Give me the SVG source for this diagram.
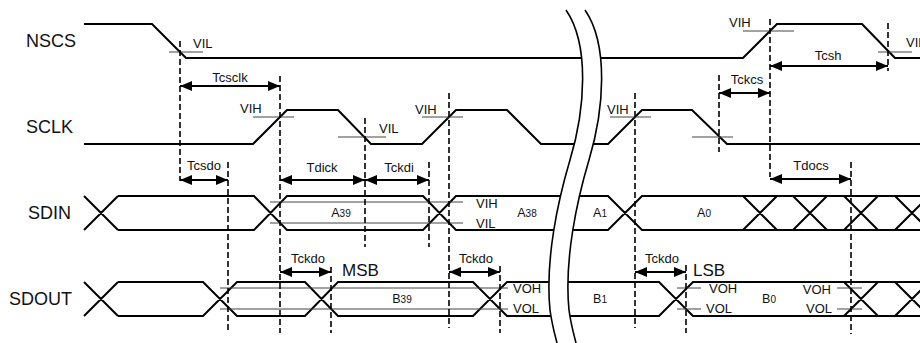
<svg xmlns="http://www.w3.org/2000/svg" width="920" height="343" viewBox="0 0 920 343">
<style>
text{font-family:"Liberation Sans",Arial,sans-serif;fill:#111}
.name{font-size:18px}
.lbl{font-size:13px}
.big{font-size:17px}
.dat{font-size:12.5px}
.sub{font-size:10px}
.sig{fill:none;stroke:#000;stroke-width:2;stroke-linejoin:miter}
.thin{fill:none;stroke:#444;stroke-width:1}
.dash{fill:none;stroke:#000;stroke-width:1.6;stroke-dasharray:6,3}
.arr{fill:none;stroke:#000;stroke-width:2;marker-start:url(#ah);marker-end:url(#ah)}
.brk{fill:none;stroke:#000;stroke-width:1.6}
</style>
<defs>
<marker id="ah" viewBox="0 0 12 10" refX="12" refY="5" markerWidth="12" markerHeight="10" markerUnits="userSpaceOnUse" orient="auto-start-reverse">
<path d="M0,0 L12,5 L0,10 z" fill="#000"/>
</marker>
</defs>
<rect width="920" height="343" fill="#fff"/>

<g id="NSCS">
<text class="name" x="26" y="47">NSCS</text>
<path class="sig" d="M84,24 H152 L186,58 H743 L777,24 H862 L895,58 H920"/>
<line class="thin" x1="169" y1="52" x2="203" y2="52"/>
<text class="lbl" x="193" y="48">VIL</text>
<line class="thin" x1="743" y1="31" x2="794" y2="31"/>
<text class="lbl" x="729" y="27">VIH</text>
<line class="thin" x1="878" y1="52" x2="912" y2="52"/>
<text class="lbl" x="906" y="47">VIL</text>
</g>

<g id="SCLK">
<text class="name" x="26" y="133">SCLK</text>
<path class="sig" d="M84,144 H253 L287,110 H338 L371,144 H422 L456,110 H507 L541,144 H608 L642,110 H692 L727,144 H920"/>
<line class="thin" x1="253" y1="117" x2="294" y2="117"/>
<text class="lbl" x="240" y="113">VIH</text>
<line class="thin" x1="338" y1="137" x2="386" y2="137"/>
<text class="lbl" x="379" y="133">VIL</text>
<line class="thin" x1="422" y1="117" x2="463" y2="117"/>
<text class="lbl" x="415" y="114">VIH</text>
<line class="thin" x1="610" y1="117" x2="651" y2="117"/>
<text class="lbl" x="607" y="114">VIH</text>
<line class="thin" x1="692" y1="137" x2="733" y2="137"/>
</g>

<g id="SDIN">
<text class="name" x="28" y="219">SDIN</text>
<path class="sig" d="M84,196 L118,230 M84,230 L118,196 M118,196 H254 L287,230 H423 L456,196 H608 L642,230 H930 M118,230 H254 L287,196 H423 L456,230 H608 L642,196 H930 M743,196 L777,230 M743,230 L777,196 M793,196 L827,230 M793,230 L827,196 M844,196 L878,230 M844,230 L878,196 M895,196 L929,230 M895,230 L929,196"/>
<line class="thin" x1="270" y1="202" x2="463" y2="202"/>
<line class="thin" x1="270" y1="223" x2="463" y2="223"/>
<text class="lbl" x="476" y="208">VIH</text>
<text class="lbl" x="476" y="228">VIL</text>
<text class="dat" x="341" y="217" text-anchor="middle">A<tspan class="sub">39</tspan></text>
<text class="dat" x="527" y="217" text-anchor="middle">A<tspan class="sub">38</tspan></text>
<text class="dat" x="600" y="217" text-anchor="middle">A<tspan class="sub">1</tspan></text>
<text class="dat" x="704" y="217" text-anchor="middle">A<tspan class="sub">0</tspan></text>
</g>

<g id="SDOUT">
<text class="name" x="9" y="305">SDOUT</text>
<path class="sig" d="M84,282 L118,316 M84,316 L118,282 M118,282 H203 L237,316 H305 L338,282 H473 L507,316 H659 L693,282 H930 M118,316 H203 L237,282 H305 L338,316 H473 L507,282 H659 L693,316 H930 M844,282 L878,316 M844,316 L878,282 M895,282 L929,316 M895,316 L929,282"/>
<line class="thin" x1="220" y1="288" x2="508" y2="288"/>
<line class="thin" x1="220" y1="309" x2="508" y2="309"/>
<text class="lbl" x="513" y="293">VOH</text>
<text class="lbl" x="513" y="313">VOL</text>
<line class="thin" x1="677" y1="288" x2="701" y2="288"/>
<line class="thin" x1="677" y1="309" x2="701" y2="309"/>
<text class="lbl" x="709" y="293">VOH</text>
<text class="lbl" x="706" y="313">VOL</text>
<line class="thin" x1="837" y1="288" x2="862" y2="288"/>
<line class="thin" x1="837" y1="309" x2="862" y2="309"/>
<text class="lbl" x="831" y="294" text-anchor="end">VOH</text>
<text class="lbl" x="832" y="313" text-anchor="end">VOL</text>
<text class="dat" x="402" y="303" text-anchor="middle">B<tspan class="sub">39</tspan></text>
<text class="dat" x="600" y="303" text-anchor="middle">B<tspan class="sub">1</tspan></text>
<text class="dat" x="769" y="303" text-anchor="middle">B<tspan class="sub">0</tspan></text>
<text class="big" x="342" y="276">MSB</text>
<text class="big" x="693" y="276">LSB</text>
</g>

<g id="break">
<path d="M566,10 C590,45 585,110 570,160 C558,200 545,260 550,310 C552,325 555,335 557,343 L576,343 C574,335 571,325 569,310 C564,260 577,200 589,160 C604,110 609,45 585,10 Z" fill="#fff" stroke="none"/>
<path class="brk" d="M566,10 C590,45 585,110 570,160 C558,200 545,260 550,310 C552,325 555,335 557,343"/>
<path class="brk" d="M585,10 C609,45 604,110 589,160 C577,200 564,260 569,310 C571,325 574,335 576,343"/>
</g>

<g id="connectors">
<line class="dash" x1="180" y1="41" x2="180" y2="181"/>
<line class="dash" x1="280" y1="76" x2="280" y2="333"/>
<line class="dash" x1="228" y1="162" x2="228" y2="333"/>
<line class="dash" x1="365" y1="118" x2="365" y2="247"/>
<line class="dash" x1="429" y1="162" x2="429" y2="247"/>
<line class="dash" x1="449" y1="93" x2="449" y2="328"/>
<line class="dash" x1="331" y1="267" x2="331" y2="333"/>
<line class="dash" x1="500" y1="266" x2="500" y2="333"/>
<line class="dash" x1="635" y1="93" x2="635" y2="328"/>
<line class="dash" x1="686" y1="265" x2="686" y2="333"/>
<line class="dash" x1="719" y1="75" x2="719" y2="152"/>
<line class="dash" x1="770" y1="19" x2="770" y2="177"/>
<line class="dash" x1="888" y1="23" x2="888" y2="71"/>
<line class="dash" x1="851" y1="162" x2="851" y2="334"/>

<line class="arr" x1="180" y1="86" x2="280" y2="86"/>
<text class="lbl" x="230" y="82" text-anchor="middle">Tcsclk</text>
<line class="arr" x1="180" y1="180" x2="228" y2="180"/>
<text class="lbl" x="204" y="170" text-anchor="middle">Tcsdo</text>
<line class="arr" x1="280" y1="180" x2="365" y2="180"/>
<text class="lbl" x="322" y="172" text-anchor="middle">Tdick</text>
<line class="arr" x1="365" y1="180" x2="429" y2="180"/>
<text class="lbl" x="399" y="172" text-anchor="middle">Tckdi</text>
<line class="arr" x1="280" y1="272" x2="331" y2="272"/>
<text class="lbl" x="308" y="263" text-anchor="middle">Tckdo</text>
<line class="arr" x1="449" y1="272" x2="500" y2="272"/>
<text class="lbl" x="476" y="263" text-anchor="middle">Tckdo</text>
<line class="arr" x1="635" y1="272" x2="686" y2="272"/>
<text class="lbl" x="662" y="263" text-anchor="middle">Tckdo</text>
<line class="arr" x1="719" y1="93" x2="770" y2="93"/>
<text class="lbl" x="747" y="84" text-anchor="middle">Tckcs</text>
<line class="arr" x1="770" y1="66" x2="888" y2="66"/>
<text class="lbl" x="828" y="60" text-anchor="middle">Tcsh</text>
<line class="arr" x1="770" y1="179" x2="851" y2="179"/>
<text class="lbl" x="811" y="170" text-anchor="middle">Tdocs</text>
</g>
</svg>
